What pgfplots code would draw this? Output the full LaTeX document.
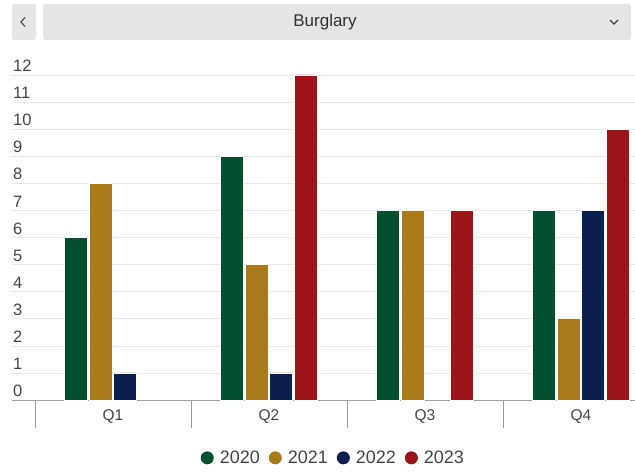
\documentclass[border=0pt]{standalone}
\usepackage{pgfplots}
\pgfplotsset{compat=1.18}
\usepackage{fontspec}
\setmainfont{Liberation Sans}
\definecolor{cgreen}{RGB}{0,80,48}
\definecolor{cgold}{RGB}{168,122,26}
\definecolor{cnavy}{RGB}{10,31,80}
\definecolor{cred}{RGB}{154,20,24}
\definecolor{ctext}{RGB}{68,68,68}
\definecolor{cui}{RGB}{229,229,229}
\begin{document}
\begin{tikzpicture}
% top UI
\fill[cui, rounded corners=2.5pt] (12pt,432pt) rectangle (36pt,468pt);
\fill[cui, rounded corners=2.5pt] (43pt,432pt) rectangle (631pt,468pt);
\draw[ctext, line width=1.1pt] (25pt,454.5pt)--(21pt,450pt)--(25pt,445.5pt);
\draw[ctext, line width=1.1pt] (610pt,452pt)--(614pt,448pt)--(618pt,452pt);
\node[text=ctext!70!black, font=\fontsize{17}{19}\selectfont] at (325pt,450pt) {Burglary};
\begin{axis}[
  at={(12pt,72pt)}, anchor=south west,
  scale only axis, width=623pt, height=325pt,
  xmin=-0.647, xmax=3.346, ymin=0, ymax=12,
  ybar=1.5pt, bar width=23pt,
  axis x line*=bottom, axis y line*=left,
  y axis line style={draw=none},
  x axis line style={draw=gray!75, line width=0.8pt},
  ytick={0,...,12}, ytick style={draw=none},
  ymajorgrids, grid style={gray!18, line width=0.6pt},
  xtick={0,1,2,3}, xticklabels={Q1,Q2,Q3,Q4},
  xtick style={draw=none},
  extra x ticks={-0.5,0.5,1.5,2.5}, extra x tick labels={},
  extra x tick style={major tick length=28pt, tick align=outside, xtick style={draw=gray!80, line width=0.6pt}, grid=none},
  /pgf/number format/assume math mode=true,
  ticklabel style={text=ctext, font=\fontsize{15.5}{17}\selectfont},
  yticklabel style={anchor=south west, inner sep=1pt, yshift=2pt, font=\fontsize{16.5}{18}\selectfont},
  xticklabel style={yshift=-2pt},
  legend columns=4,
  legend style={at={(0.515,-0.178)}, anchor=center, draw=none, fill=none,
    font=\fontsize{18}{20}\selectfont, text=ctext,
    nodes={inner sep=1pt},
    /tikz/every odd column/.append style={column sep=5pt},
    /tikz/every even column/.append style={column sep=8pt}},
  legend image code/.code={\fill[#1,draw=none] (0pt,0pt) circle (6.5pt);},
  every axis plot/.append style={draw=white, line width=0.6pt},
]
\addplot[fill=cgreen] coordinates {(0,6) (1,9) (2,7) (3,7)};
\addplot[fill=cgold] coordinates {(0,8) (1,5) (2,7) (3,3)};
\addplot[fill=cnavy] coordinates {(0,1) (1,1) (3,7)};
\addplot[fill=cred] coordinates {(1,12) (2,7) (3,10)};
\legend{2020,2021,2022,2023}
\end{axis}
\pgfresetboundingbox
\useasboundingbox (0pt,0pt) rectangle (635pt,472pt);
\end{tikzpicture}
\end{document}
